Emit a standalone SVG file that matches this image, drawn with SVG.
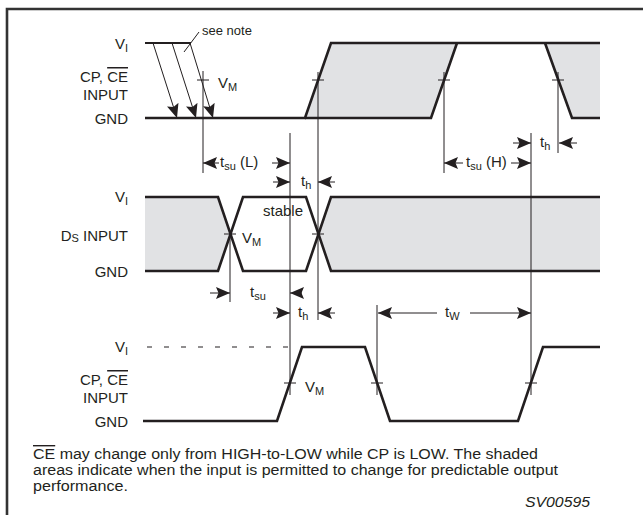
<svg xmlns="http://www.w3.org/2000/svg" width="643" height="515" viewBox="0 0 643 515">
<style>
text{font-family:"Liberation Sans",Arial,sans-serif;font-size:15px;fill:#231f20}
.lbl{text-anchor:end}
.sub{font-size:11px}
.ol{text-decoration:overline}
.wave{fill:none;stroke:#231f20;stroke-width:2.6;stroke-linejoin:miter}
.shade{fill:#e1e2e4;stroke:none}
.thin{fill:none;stroke:#231f20;stroke-width:1}
.dim{fill:none;stroke:#231f20;stroke-width:1;marker-end:url(#ah)}
.note{font-size:14px}
</style>
<defs>
<marker id="ah" viewBox="0 0 14 12" refX="14" refY="6" markerWidth="14" markerHeight="12" markerUnits="userSpaceOnUse" orient="auto">
<path d="M0,0 L14,6 L0,12 L2.5,6 z" fill="#231f20"/>
</marker>
</defs>
<g id="frame">
<path d="M7,515 V9 H643" fill="none" stroke="#333" stroke-width="2.6"/>
</g>
<g id="cp-top">
<polygon class="shade" points="305,118 331,43 457,43 431,118"/>
<polygon class="shade" points="545,43 600,43 600,118 572,118"/>
<path d="M145,43 H191" fill="none" stroke="#231f20" stroke-width="2"/>
<path class="wave" d="M145,118 H305 L331,43 H600"/>
<path class="wave" d="M305,118 H431 L457,43"/>
<path class="wave" d="M545,43 L572,118 H600"/>
<text class="lbl" x="128" y="49">V<tspan class="sub" dy="3">I</tspan></text>
<text class="lbl" x="128" y="82">CP, <tspan class="ol">CE</tspan></text>
<text class="lbl" x="128" y="100">INPUT</text>
<text class="lbl" x="128" y="124">GND</text>
<text x="218" y="88">V<tspan class="sub" dy="3">M</tspan></text>
</g>
<g id="ds">
<polygon class="shade" points="145,197 218,197 230.5,234 218,271 145,271"/>
<polygon class="shade" points="318.5,234 331,197 600,197 600,271 331,271"/>
<path class="wave" d="M145,197 H218 L243,271 H306 L331,197 H600"/>
<path class="wave" d="M145,271 H218 L243,197 H306 L331,271 H600"/>
<text class="lbl" x="128" y="202">V<tspan class="sub" dy="3">I</tspan></text>
<text class="lbl" x="128" y="241">D<tspan class="sub" dy="1">S</tspan><tspan dy="-1"> INPUT</tspan></text>
<text class="lbl" x="128" y="277">GND</text>
<text x="263" y="216">stable</text>
<text x="242" y="243">V<tspan class="sub" dy="3">M</tspan></text>
</g>
<g id="cp-bottom">
<path d="M147,347 H290" fill="none" stroke="#231f20" stroke-width="1.2" stroke-dasharray="5 12"/>
<path class="wave" d="M143,421 H277 L302,347 H365 L390,421 H518 L543,347 H600"/>
<text class="lbl" x="128" y="352">V<tspan class="sub" dy="3">I</tspan></text>
<text class="lbl" x="128" y="385">CP, <tspan class="ol">CE</tspan></text>
<text class="lbl" x="128" y="403">INPUT</text>
<text class="lbl" x="128" y="427">GND</text>
<text x="305" y="392">V<tspan class="sub" dy="3">M</tspan></text>
</g>
<g id="connectors">
<path class="thin" d="M203,71 V173 M290,133 V395 M318,72 V320 M444,72 V173 M531,133 V395 M558,72 V153 M230,230 V302 M377,305 V395"/>
<path class="thin" d="M197,80 H209 M312,80 H324 M438,80 H450 M552,80 H564 M224,234 H236 M312,234 H324 M284,383 H296 M371,383 H383 M525,383 H537"/>
<line class="dim" x1="153" y1="43" x2="177" y2="118"/>
<line class="dim" x1="172" y1="43" x2="196" y2="118"/>
<line class="dim" x1="190" y1="43" x2="213" y2="118"/>
<line class="thin" x1="184" y1="52" x2="199" y2="32"/>
<line class="dim" x1="219" y1="163" x2="203" y2="163"/>
<line class="dim" x1="272" y1="163" x2="290" y2="163"/>
<line class="dim" x1="273" y1="182" x2="290" y2="182"/>
<line class="dim" x1="335" y1="182" x2="318" y2="182"/>
<line class="dim" x1="463" y1="163" x2="444" y2="163"/>
<line class="dim" x1="511" y1="163" x2="531" y2="163"/>
<line class="dim" x1="513" y1="143" x2="531" y2="143"/>
<line class="dim" x1="577" y1="143" x2="559" y2="143"/>
<line class="dim" x1="210" y1="293" x2="230" y2="293"/>
<line class="dim" x1="302" y1="293" x2="290" y2="293"/>
<line class="dim" x1="273" y1="313" x2="290" y2="313"/>
<line class="dim" x1="335" y1="313" x2="318" y2="313"/>
<line class="dim" x1="437" y1="313" x2="378" y2="313"/>
<line class="dim" x1="470" y1="313" x2="531" y2="313"/>
</g>
<g id="labels">
<text x="202" y="35" style="font-size:13px">see note</text>
<text x="220" y="167">t<tspan class="sub" dy="3">su</tspan><tspan dy="-3"> (L)</tspan></text>
<text x="301" y="186">t<tspan class="sub" dy="3">h</tspan></text>
<text x="466" y="167">t<tspan class="sub" dy="3">su</tspan><tspan dy="-3"> (H)</tspan></text>
<text x="540" y="147">t<tspan class="sub" dy="3">h</tspan></text>
<text x="250" y="297">t<tspan class="sub" dy="3">su</tspan></text>
<text x="298" y="317">t<tspan class="sub" dy="3">h</tspan></text>
<text x="445" y="317">t<tspan class="sub" dy="3">W</tspan></text>
<text class="note" x="33" y="459" textLength="505" lengthAdjust="spacingAndGlyphs"><tspan class="ol">CE</tspan> may change only from HIGH-to-LOW while CP is LOW. The shaded</text>
<text class="note" x="33" y="475" textLength="525" lengthAdjust="spacingAndGlyphs">areas indicate when the input is permitted to change for predictable output</text>
<text class="note" x="33" y="491" textLength="95" lengthAdjust="spacingAndGlyphs">performance.</text>
<text x="525" y="507" style="font-style:italic" textLength="65" lengthAdjust="spacingAndGlyphs">SV00595</text>
</g>
</svg>
